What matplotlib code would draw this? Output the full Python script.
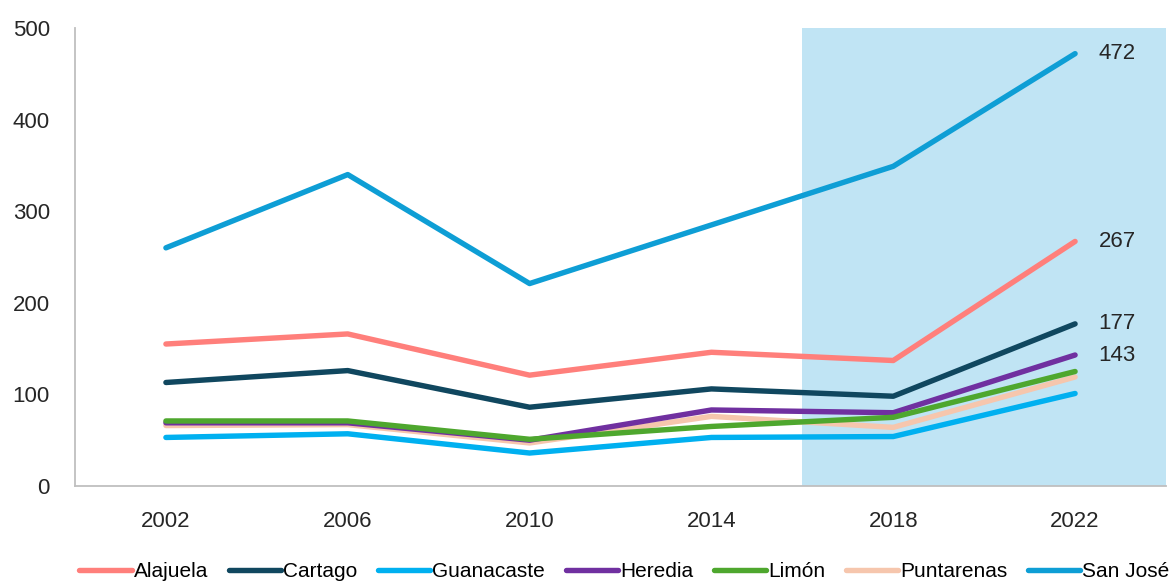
import matplotlib.pyplot as plt

years = ['2002', '2006', '2010', '2014', '2018', '2022']

alajuela = [155, 166, 121, 146, 137, 267]
cartago = [113, 126, 86, 106, 98, 177]
guanacaste = [53, 57, 36, 53, 54, 101]
heredia = [69, 69, 50, 83, 80, 143]
limon = [71, 71, 51, 65, 75, 125]
puntarenas = [66, 67, 47, 76, 64, 119]
san_jose = [260, 340, 221, 285, 349, 472]

names = ['Alajuela', 'Cartago', 'Guanacaste', 'Heredia', 'Limón', 'Puntarenas', 'San José']
colors = ['#FF7F7B', '#10475F', '#00B0F0', '#7030A0', '#4EA72E', '#F6C6AD', '#0E9ED5']
series = [alajuela, cartago, guanacaste, heredia, limon, puntarenas, san_jose]
end_labels = {'San José': 472, 'Alajuela': 267, 'Cartago': 177, 'Heredia': 143}

plt.rcParams['font.family'] = ['Liberation Sans', 'DejaVu Sans']

fig = plt.figure(figsize=(11.74, 5.85), dpi=100)
ax = fig.add_axes([75/1174, (585-486)/585, (1166-75)/1174, (486-28)/585])

x = list(range(len(years)))
ax.axvspan(3.5, 5.5, color='#C0E4F4', zorder=0, lw=0)

# back to front, like the original
draw_order = ['San José', 'Alajuela', 'Cartago', 'Guanacaste', 'Puntarenas', 'Heredia', 'Limón']
lines = {}
for nm in draw_order:
    i = names.index(nm)
    ln, = ax.plot(x, series[i], color=colors[i], lw=3.9, solid_capstyle='round',
                  solid_joinstyle='round', label=nm, zorder=2)
    lines[nm] = ln

for nm, v in end_labels.items():
    ax.text(5 + 0.13, v, str(v), va='center', ha='left', fontsize=16, color='#262626')

ax.set_xlim(-0.5, 5.5)
ax.set_ylim(0, 500)
ax.set_xticks(x)
ax.set_xticklabels(years)
ax.set_yticks([0, 100, 200, 300, 400, 500])
ax.tick_params(axis='both', length=0, labelsize=16, colors='#262626')
ax.tick_params(axis='x', pad=18)
ax.tick_params(axis='y', pad=18)
for s in ['top', 'right']:
    ax.spines[s].set_visible(False)
for s in ['left', 'bottom']:
    ax.spines[s].set_color('#BFBFBF')
    ax.spines[s].set_linewidth(1.3)

handles = [lines[nm] for nm in names]
fig.legend(handles, names, loc='lower center', bbox_to_anchor=(0.532, -0.025), ncol=7,
           frameon=False, fontsize=15, handlelength=2.5, handletextpad=0.1,
           columnspacing=1.0)

fig.savefig('out.png', dpi=100)
